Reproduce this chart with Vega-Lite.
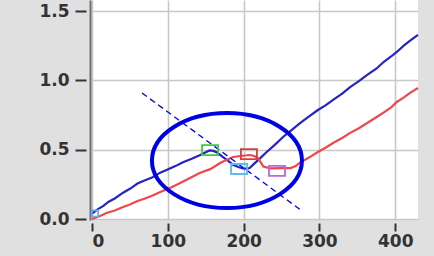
{
  "$schema": "https://vega.github.io/schema/vega-lite/v6.json",
  "width": 326,
  "height": 220,
  "autosize": {"type": "none"},
  "padding": {"left": 92, "top": 0, "right": 16, "bottom": 36},
  "background": "#e0e0e0",
  "config": {"view": {"fill": "white", "stroke": null}},
  "datasets": {
    "curves": [
      {"x": 0, "y": 0.040, "s": "blue"}, {"x": 8, "y": 0.072, "s": "blue"}, {"x": 15, "y": 0.095, "s": "blue"},
      {"x": 22, "y": 0.125, "s": "blue"}, {"x": 30, "y": 0.148, "s": "blue"}, {"x": 41, "y": 0.190, "s": "blue"},
      {"x": 50, "y": 0.218, "s": "blue"}, {"x": 60, "y": 0.256, "s": "blue"}, {"x": 70, "y": 0.280, "s": "blue"},
      {"x": 80, "y": 0.302, "s": "blue"}, {"x": 90, "y": 0.335, "s": "blue"}, {"x": 99, "y": 0.355, "s": "blue"},
      {"x": 110, "y": 0.382, "s": "blue"}, {"x": 120, "y": 0.410, "s": "blue"}, {"x": 130, "y": 0.432, "s": "blue"},
      {"x": 142, "y": 0.460, "s": "blue"}, {"x": 150, "y": 0.482, "s": "blue"}, {"x": 155, "y": 0.495, "s": "blue"},
      {"x": 160, "y": 0.492, "s": "blue"}, {"x": 165, "y": 0.480, "s": "blue"}, {"x": 172, "y": 0.450, "s": "blue"},
      {"x": 180, "y": 0.418, "s": "blue"}, {"x": 186, "y": 0.392, "s": "blue"}, {"x": 193, "y": 0.375, "s": "blue"},
      {"x": 199, "y": 0.366, "s": "blue"}, {"x": 204, "y": 0.364, "s": "blue"}, {"x": 208, "y": 0.368, "s": "blue"},
      {"x": 214, "y": 0.400, "s": "blue"}, {"x": 222, "y": 0.440, "s": "blue"}, {"x": 230, "y": 0.482, "s": "blue"},
      {"x": 240, "y": 0.530, "s": "blue"}, {"x": 252, "y": 0.592, "s": "blue"}, {"x": 262, "y": 0.636, "s": "blue"},
      {"x": 274, "y": 0.690, "s": "blue"}, {"x": 285, "y": 0.735, "s": "blue"}, {"x": 298, "y": 0.787, "s": "blue"},
      {"x": 308, "y": 0.820, "s": "blue"}, {"x": 318, "y": 0.860, "s": "blue"}, {"x": 330, "y": 0.905, "s": "blue"},
      {"x": 340, "y": 0.950, "s": "blue"}, {"x": 352, "y": 0.995, "s": "blue"}, {"x": 363, "y": 1.040, "s": "blue"},
      {"x": 375, "y": 1.085, "s": "blue"}, {"x": 385, "y": 1.135, "s": "blue"}, {"x": 395, "y": 1.175, "s": "blue"},
      {"x": 402, "y": 1.206, "s": "blue"}, {"x": 412, "y": 1.255, "s": "blue"}, {"x": 420, "y": 1.290, "s": "blue"},
      {"x": 430, "y": 1.330, "s": "blue"},
      {"x": 0, "y": 0.000, "s": "red"}, {"x": 10, "y": 0.020, "s": "red"}, {"x": 20, "y": 0.045, "s": "red"},
      {"x": 30, "y": 0.062, "s": "red"}, {"x": 41, "y": 0.087, "s": "red"}, {"x": 50, "y": 0.105, "s": "red"},
      {"x": 60, "y": 0.130, "s": "red"}, {"x": 70, "y": 0.148, "s": "red"}, {"x": 80, "y": 0.170, "s": "red"},
      {"x": 90, "y": 0.195, "s": "red"}, {"x": 103, "y": 0.224, "s": "red"}, {"x": 115, "y": 0.256, "s": "red"},
      {"x": 128, "y": 0.292, "s": "red"}, {"x": 142, "y": 0.332, "s": "red"}, {"x": 156, "y": 0.360, "s": "red"},
      {"x": 169, "y": 0.404, "s": "red"}, {"x": 178, "y": 0.428, "s": "red"}, {"x": 186, "y": 0.448, "s": "red"},
      {"x": 196, "y": 0.455, "s": "red"}, {"x": 208, "y": 0.462, "s": "red"}, {"x": 214, "y": 0.455, "s": "red"},
      {"x": 219, "y": 0.440, "s": "red"}, {"x": 223, "y": 0.405, "s": "red"}, {"x": 226, "y": 0.378, "s": "red"},
      {"x": 235, "y": 0.366, "s": "red"}, {"x": 250, "y": 0.368, "s": "red"}, {"x": 262, "y": 0.368, "s": "red"},
      {"x": 268, "y": 0.380, "s": "red"}, {"x": 274, "y": 0.405, "s": "red"}, {"x": 285, "y": 0.440, "s": "red"},
      {"x": 298, "y": 0.484, "s": "red"}, {"x": 308, "y": 0.515, "s": "red"}, {"x": 318, "y": 0.549, "s": "red"},
      {"x": 330, "y": 0.585, "s": "red"}, {"x": 340, "y": 0.620, "s": "red"}, {"x": 352, "y": 0.655, "s": "red"},
      {"x": 363, "y": 0.693, "s": "red"}, {"x": 375, "y": 0.735, "s": "red"}, {"x": 385, "y": 0.770, "s": "red"},
      {"x": 395, "y": 0.808, "s": "red"}, {"x": 402, "y": 0.845, "s": "red"}, {"x": 412, "y": 0.880, "s": "red"},
      {"x": 420, "y": 0.912, "s": "red"}, {"x": 430, "y": 0.946, "s": "red"}
    ],
    "guide": [{"x": 66, "y": 0.91}, {"x": 277, "y": 0.058}],
    "ellipse": [{"x": 178, "y": 0.422}],
    "origin": [{"x": 4, "y": 0.04}],
    "markers": [
      {"x": 155.7, "y": 0.498, "m": "green"},
      {"x": 194, "y": 0.361, "m": "cyan"},
      {"x": 207, "y": 0.469, "m": "red"},
      {"x": 244, "y": 0.347, "m": "purple"}
    ]
  },
  "layer": [
    {
      "data": {"name": "curves"},
      "mark": {"type": "line", "strokeWidth": 2.2, "interpolate": "linear"},
      "encoding": {
        "x": {
          "field": "x", "type": "quantitative",
          "scale": {"domain": [0, 430], "nice": false, "zero": false},
          "axis": {
            "values": [0, 100, 200, 300, 400], "title": null,
            "grid": true, "gridColor": "#c8c8c8", "gridWidth": 1.6,
            "domain": false,
            "ticks": true, "tickColor": "#333333", "tickWidth": 2, "tickSize": 11, "tickDash": [0, 3, 8, 100],
            "labelFont": "DejaVu Sans", "labelFontWeight": "bold", "labelFontSize": 17, "labelColor": "#333333",
            "labelPadding": 2
          }
        },
        "y": {
          "field": "y", "type": "quantitative",
          "scale": {"domain": [-0.007, 1.581], "nice": false, "zero": false},
          "axis": {
            "values": [0, 0.5, 1, 1.5], "format": ".1f", "title": null,
            "grid": true, "gridColor": "#c8c8c8", "gridWidth": 1.6,
            "domain": true, "domainColor": "#707070", "domainWidth": 2, "offset": 2,
            "ticks": true, "tickColor": "#333333", "tickWidth": 2, "tickSize": 15, "tickDash": [0, 4, 11, 100],
            "labelFont": "DejaVu Sans", "labelFontWeight": "bold", "labelFontSize": 17, "labelColor": "#333333",
            "labelPadding": 6
          }
        },
        "color": {
          "field": "s", "type": "nominal",
          "scale": {"domain": ["blue", "red"], "range": ["#2424c4", "#f04848"]},
          "legend": null
        }
      }
    },
    {
      "data": {"name": "guide"},
      "mark": {"type": "line", "color": "#0000ee", "strokeWidth": 1.3, "strokeDash": [6, 4]},
      "encoding": {
        "x": {"field": "x", "type": "quantitative"},
        "y": {"field": "y", "type": "quantitative"}
      }
    },
    {
      "data": {"name": "ellipse"},
      "mark": {
        "type": "point", "filled": false, "opacity": 1,
        "shape": "M -1 0 A 1 0.633 0 1 0 1 0 A 1 0.633 0 1 0 -1 0 Z",
        "size": 22500, "stroke": "#0000e6", "strokeWidth": 4
      },
      "encoding": {
        "x": {"field": "x", "type": "quantitative"},
        "y": {"field": "y", "type": "quantitative"}
      }
    },
    {
      "data": {"name": "origin"},
      "mark": {
        "type": "point", "filled": false, "opacity": 1,
        "shape": "square", "size": 40, "stroke": "#6aa8f0", "strokeWidth": 1.8
      },
      "encoding": {
        "x": {"field": "x", "type": "quantitative"},
        "y": {"field": "y", "type": "quantitative"}
      }
    },
    {
      "data": {"name": "markers"},
      "mark": {
        "type": "point", "filled": false, "opacity": 1,
        "shape": "M -1 -0.625 L 1 -0.625 L 1 0.625 L -1 0.625 Z",
        "size": 256, "strokeWidth": 1.8
      },
      "encoding": {
        "x": {"field": "x", "type": "quantitative"},
        "y": {"field": "y", "type": "quantitative"},
        "stroke": {
          "field": "m", "type": "nominal",
          "scale": {"domain": ["green", "cyan", "red", "purple"], "range": ["#3ccc3c", "#5cbcf0", "#dc3c3c", "#b868e0"]},
          "legend": null
        }
      }
    }
  ]
}
